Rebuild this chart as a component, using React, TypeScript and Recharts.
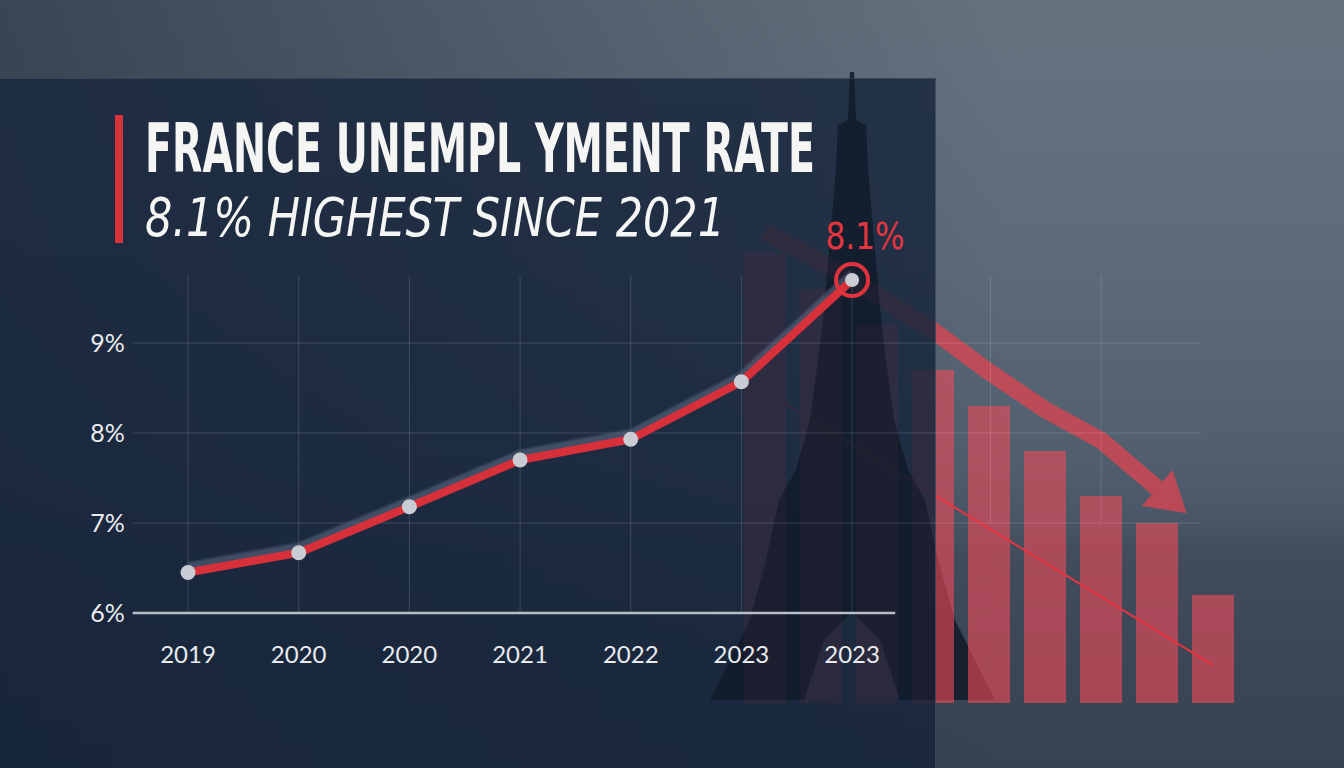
import React from 'react';
import {
  ComposedChart, Line, Bar, XAxis, YAxis, CartesianGrid, ReferenceLine,
} from 'recharts';

// main series
const years = ['2019', '2020', '2020', '2021', '2022', '2023', '2023'];
const rates = [6.45, 6.67, 7.18, 7.7, 7.93, 8.57, 9.7];
const yTicks = [6, 7, 8, 9];
const peakLabel = '8.1%';

// decorative falling bars + trend arrow on the right
const barLevels = [10.0, 9.6, 9.2, 8.7, 8.3, 7.8, 7.3, 7.0, 6.2];
const arrowLevels = [10.23, 9.9, 9.53, 9.14, 8.68, 8.26, 7.92, 7.39, null];
const slopeLevels = [8.46, null, null, null, null, null, null, null, 5.42];

const lineData = rates.map((rate, i) => ({ x: i, rate }));
const barData = barLevels.map((level, i) => ({
  i,
  level,
  arrow: arrowLevels[i],
  slope: slopeLevels[i],
}));

const RED = '#d8303a';
const TEXT = '#e9ebee';
const GRID = 'rgba(255,255,255,0.14)';
const NARROW = "'Liberation Sans Narrow', 'DejaVu Sans Condensed', sans-serif";
const TOWER =
  '850,72 854,72 856,120 866,125 868,170 874,240 882,330 894,420 908,470 925,500 938,560 955,620 995,700 900,700 880,640 852,612 824,640 804,700 710,700 750,620 766,560 779,500 796,470 810,420 822,330 830,240 836,170 838,125 848,120';

const RateDot = (props: any) => {
  const { cx, cy, index } = props;
  if (cx == null || cy == null) return null;
  if (index === rates.length - 1) {
    return (
      <g key={`dot-${index}`}>
        <circle cx={cx} cy={cy} r={16} fill="none" stroke="#e2333d" strokeWidth={4} />
        <circle cx={cx} cy={cy} r={7} fill="#c9cdd3" />
        <text
          x={cx + 13}
          y={cy - 31}
          textAnchor="middle"
          fill="#e3363f"
          fontSize={38}
          fontFamily={NARROW}
          textLength={79}
          lengthAdjust="spacingAndGlyphs"
        >
          {peakLabel}
        </text>
      </g>
    );
  }
  return <circle key={`dot-${index}`} cx={cx} cy={cy} r={7.5} fill="#c9cdd3" />;
};

export default function App() {
  return (
    <div
      style={{
        position: 'fixed', left: 0, top: 0, width: 1344, height: 768, overflow: 'hidden',
        background:
          'linear-gradient(90deg, rgba(22,32,48,0.55) 0%, rgba(22,32,48,0.15) 55%, rgba(22,32,48,0) 75%),' +
          'linear-gradient(180deg, #66737f 0%, #5d6a7a 35%, #505e6e 60%, #4a5767 67%, #414d5d 72%, #3b4757 85%, #374353 100%)',
      }}
    >
      <style>{`.rate-line .recharts-line-curve { filter: drop-shadow(0px -6px 1px rgba(95,110,135,0.55)); }`}</style>

      {/* tower behind everything */}
      <svg width={1344} height={768} style={{ position: 'absolute', left: 0, top: 0 }}>
        <polygon points={TOWER} fill="#141d2a" fillOpacity={0.9} />
      </svg>

      {/* falling bars and trend arrow */}
      <div style={{ position: 'absolute', left: 0, top: 0 }}>
        <ComposedChart width={1344} height={768} data={barData} margin={{ top: 208, right: 103, bottom: 65, left: 737 }}>
          <defs>
            <marker id="arrowHead" markerWidth="2.4" markerHeight="2.8" refX="0" refY="1.4" orient="auto" markerUnits="strokeWidth">
              <path d="M0,0 L2.3,1.4 L0,2.8 z" fill="#e0444f" fillOpacity={0.75} />
            </marker>
          </defs>
          <XAxis dataKey="i" hide />
          <YAxis hide domain={[5, 10.5]} allowDataOverflow />
          <Bar dataKey="level" barSize={42} fill="#ec4b58" fillOpacity={0.62} isAnimationActive={false} />
          <Line
            dataKey="arrow"
            stroke="#e0444f"
            strokeOpacity={0.75}
            strokeWidth={17}
            strokeLinejoin="round"
            dot={false}
            activeDot={false}
            markerEnd="url(#arrowHead)"
            isAnimationActive={false}
          />
          <Line
            dataKey="slope"
            connectNulls
            stroke="#e8343f"
            strokeWidth={2}
            dot={false}
            activeDot={false}
            isAnimationActive={false}
          />
        </ComposedChart>
      </div>

      {/* dark panel */}
      <div
        style={{
          position: 'absolute', left: 0, top: 78, width: 935, height: 690,
          background: 'linear-gradient(180deg, rgba(26,40,62,0.86) 0%, rgba(22,36,58,0.86) 100%)',
          borderRight: '1px solid rgba(130,145,165,0.3)',
          borderTop: '1px solid rgba(130,145,165,0.25)',
        }}
      />

      {/* tower seen through the panel */}
      <svg width={1344} height={768} style={{ position: 'absolute', left: 0, top: 0 }}>
        <defs>
          <clipPath id="panelClip">
            <rect x={0} y={79} width={935} height={689} />
          </clipPath>
        </defs>
        <polygon points={TOWER} fill="#0c1420" fillOpacity={0.45} clipPath="url(#panelClip)" />
      </svg>

      {/* main line chart */}
      <div style={{ position: 'absolute', left: 0, top: 0 }}>
        <ComposedChart width={1344} height={768} data={lineData} margin={{ top: 275.5, right: 143.3, bottom: 125, left: 72.7 }}>
          <CartesianGrid
            stroke={GRID}
            horizontalValues={[7, 8, 9]}
            verticalValues={[0, 1, 2, 3, 4, 5, 6]}
          />
          <XAxis
            type="number"
            dataKey="x"
            domain={[-0.5, 9.15]}
            ticks={[0, 1, 2, 3, 4, 5, 6]}
            tickFormatter={(v: number) => years[v]}
            axisLine={false}
            tickLine={false}
            tickMargin={27}
            tick={{ fill: TEXT, fontSize: 24, fontFamily: 'Lato, sans-serif' }}
          />
          <YAxis
            width={60}
            domain={[6, 9.75]}
            ticks={yTicks}
            tickFormatter={(v: number) => `${v}%`}
            axisLine={false}
            tickLine={false}
            tick={{ fill: TEXT, fontSize: 25, fontFamily: 'Lato, sans-serif' }}
          />
          <ReferenceLine segment={[{ x: 7.25, y: 7 }, { x: 7.25, y: 9.75 }]} stroke={GRID} />
          <ReferenceLine segment={[{ x: 8.25, y: 7 }, { x: 8.25, y: 9.75 }]} stroke={GRID} />
          <ReferenceLine segment={[{ x: -0.5, y: 6 }, { x: 6.39, y: 6 }]} stroke="#b9bfc8" strokeWidth={2.5} />
          <Line
            className="rate-line"
            dataKey="rate"
            stroke={RED}
            strokeWidth={8}
            strokeLinejoin="round"
            dot={RateDot}
            activeDot={false}
            isAnimationActive={false}
          />
        </ComposedChart>
      </div>

      {/* headline */}
      <svg width={1344} height={768} style={{ position: 'absolute', left: 0, top: 0, pointerEvents: 'none' }}>
        <rect x={115} y={115} width={8} height={128} fill="#d8333d" />
        <text
          x={145}
          y={172}
          fill="#f5f5f3"
          fontSize={67}
          fontWeight="bold"
          fontFamily={NARROW}
          textLength={670}
          lengthAdjust="spacingAndGlyphs"
        >
          FRANCE UNEMPL YMENT RATE
        </text>
        <text
          x={145}
          y={236}
          fill="#f5f5f3"
          fontSize={53}
          fontStyle="italic"
          fontFamily={NARROW}
          textLength={580}
          lengthAdjust="spacingAndGlyphs"
        >
          8.1% HIGHEST SINCE 2021
        </text>
      </svg>
    </div>
  );
}
